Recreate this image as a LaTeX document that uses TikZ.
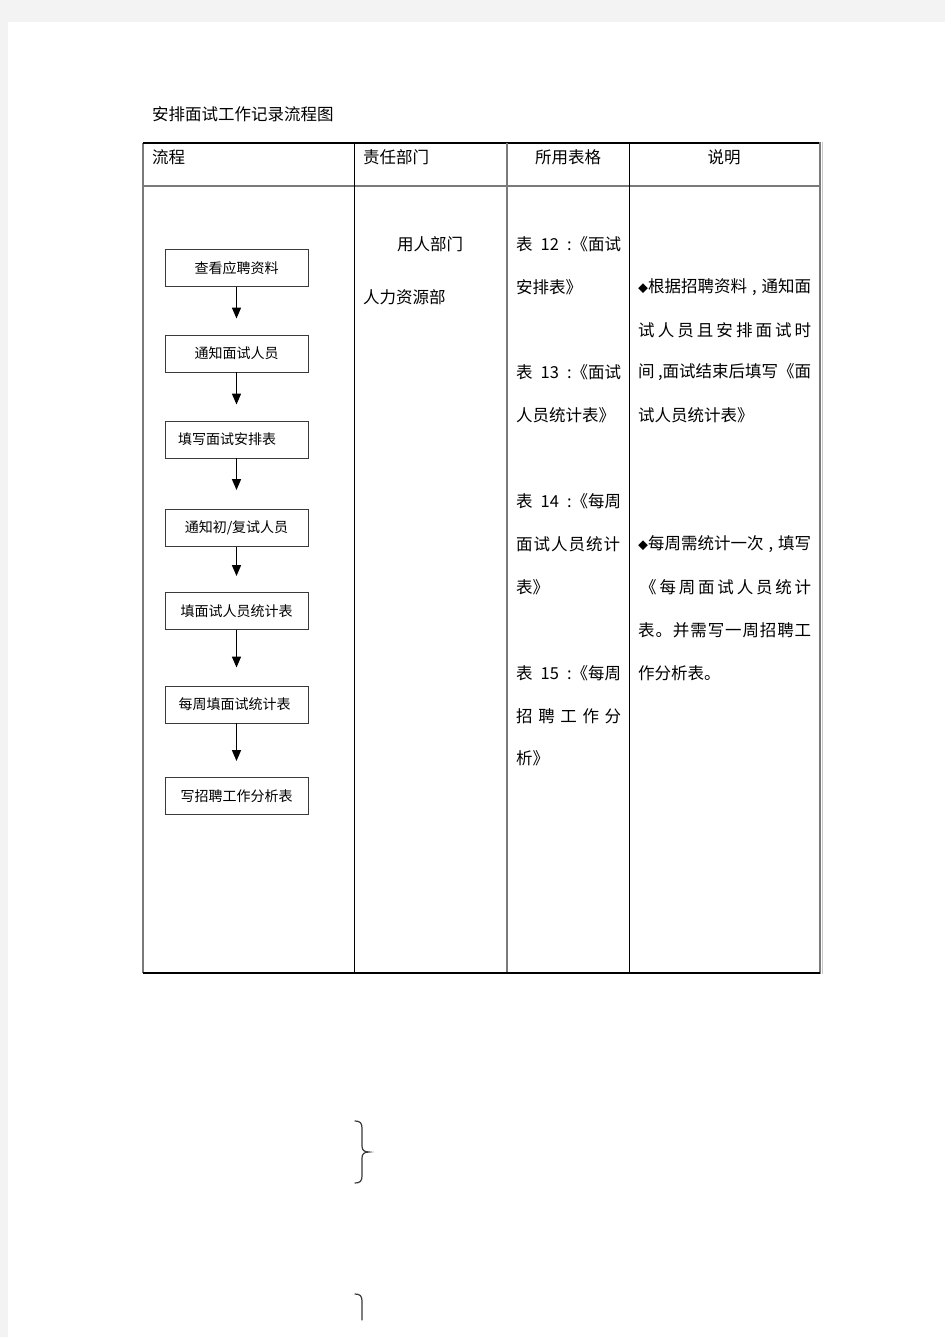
\documentclass[tikz,border=0pt]{standalone}
\usepackage{fontspec}
\setmainfont{Noto Sans CJK SC}
\usetikzlibrary{arrows.meta}
\definecolor{pagegray}{HTML}{F3F3F3}
\definecolor{rulegray}{HTML}{7A7A7A}
\definecolor{lightrule}{HTML}{C8C8C8}
\definecolor{boxline}{HTML}{3A3A3A}
\newcommand\spreadline[2]{\makebox[#1][s]{#2}}
\newcommand\smalldia{{\fontsize{10}{10}\selectfont ◆}}
\begin{document}
\begin{tikzpicture}[x=1pt,y=-1pt,
  txt/.style={anchor=west, inner sep=0pt, font=\fontsize{16.5}{18}\selectfont},
  ctxt/.style={anchor=center, inner sep=0pt, font=\fontsize{16.5}{18}\selectfont},
  flowbox/.style={draw=boxline, line width=0.9pt, minimum width=143pt, minimum height=37pt, inner sep=0pt, font=\fontsize{14}{16}\selectfont},
  arr/.style={-{Triangle[length=11pt,width=9pt]}, line width=1.5pt, shorten >=16pt},
  thinrule/.style={line width=1pt, black},
  greyrule/.style={line width=1.6pt, rulegray},
  bracepath/.style={line width=1.2pt, boxline, line cap=round}]
\useasboundingbox (0,0) rectangle (945,1337);
\fill[pagegray] (0,0) rectangle (945,1337);
\fill[white] (8,22) rectangle (945,1337);

% title
\node[txt] (title) at (152,114) {安排面试工作记录流程图};

% table rules
\draw[greyrule] (143,143) -- (143,973);
\draw[thinrule, line width=1.3pt] (143,143) -- (820,143);
\draw[greyrule, line width=2.2pt] (143,186) -- (820,186);
\draw[thinrule] (354.5,143) -- (354.5,973);
\draw[greyrule, line width=1.3pt] (507,143) -- (507,973);
\draw[thinrule] (629.5,143) -- (629.5,973);
\draw[greyrule, line width=2pt] (819.5,142) -- (819.5,974);
\draw[lightrule, line width=1pt] (822.5,142) -- (822.5,974);
\draw[thinrule, line width=1.3pt] (143,973) -- (820,973);

% header
\node[txt] (h1) at (152,157) {流程};
\node[txt] (h2) at (363,157) {责任部门};
\node[ctxt] (h3) at (568,157) {所用表格};
\node[ctxt] (h4) at (724,157) {说明};

% column 2
\node[txt] (d1) at (397,244) {用人部门};
\node[txt] (d2) at (363,297) {人力资源部};

% column 3
\node[txt] (f1) at (516,244) {\spreadline{105pt}{表 12 :《面试}};
\node[txt] (f2) at (516,287) {安排表》};
\node[txt] (f3) at (516,372) {\spreadline{105pt}{表 13 :《面试}};
\node[txt] (f4) at (516,415) {人员统计表》};
\node[txt] (f5) at (516,501) {\spreadline{105pt}{表 14 :《每周}};
\node[txt] (f6) at (516,544) {\spreadline{104pt}{面\hfil 试\hfil 人\hfil 员\hfil 统\hfil 计}};
\node[txt] (f7) at (516,587) {表》};
\node[txt] (f8) at (516,673) {\spreadline{105pt}{表 15 :《每周}};
\node[txt] (f9) at (516,716) {\spreadline{105pt}{招 聘 工 作 分}};
\node[txt] (f10) at (516,758) {析》};

% column 4
\node[txt] (n1) at (638,287) {\spreadline{173pt}{\smalldia 根据招聘资料 , 通知面}};
\node[txt] (n2) at (638,330) {\spreadline{173pt}{试\hfil 人\hfil 员\hfil 且\hfil 安\hfil 排\hfil 面\hfil 试\hfil 时}};
\node[txt] (n3) at (638,372) {\spreadline{173pt}{间 ,面试结束后填写《面}};
\node[txt] (n4) at (638,415) {试人员统计表》};
\node[txt] (n5) at (638,544) {\spreadline{173pt}{\smalldia 每周需统计一次 , 填写}};
\node[txt] (n6) at (638,587) {\spreadline{173pt}{\hspace{2pt}《\hfil 每\hfil 周\hfil 面\hfil 试\hfil 人\hfil 员\hfil 统\hfil 计}};
\node[txt] (n7) at (638,630) {\spreadline{173pt}{表\hfil 。\hfil 并\hfil 需\hfil 写\hfil 一\hfil 周\hfil 招\hfil 聘\hfil 工}};
\node[txt] (n8) at (638,673) {作分析表。};

% flow boxes
\node[flowbox] (b1) at (236.5,268) {查看应聘资料};
\node[flowbox] (b2) at (236.5,353.5) {通知面试人员};
\node[flowbox] (b3) at (236.5,439.5) {填写面试安排表\kern19pt\relax};
\node[flowbox] (b4) at (236.5,528) {通知初/复试人员};
\node[flowbox] (b5) at (236.5,611) {填面试人员统计表};
\node[flowbox] (b6) at (236.5,704.5) {每周填面试统计表\kern4pt\relax};
\node[flowbox] (b7) at (236.5,796) {写招聘工作分析表};

\draw[arr] (b1.south) -- (b2.north);
\draw[arr] (b2.south) -- (b3.north);
\draw[arr, shorten >=19pt] (b3.south) -- (b4.north);
\draw[arr] (b4.south) -- (b5.north);
\draw[arr, shorten >=18pt] (b5.south) -- (b6.north);
\draw[arr] (b6.south) -- (b7.north);

% braces below the table
\draw[bracepath] (355,1121) .. controls (360,1121) and (362,1123) .. (362,1128)
  -- (362,1146) .. controls (362,1150) and (364,1152) .. (369,1152)
  .. controls (364,1152) and (362,1154) .. (362,1158)
  -- (362,1176) .. controls (362,1181) and (360,1183) .. (355,1183);
\draw[bracepath] (355,1294) .. controls (360,1294) and (362,1296) .. (362,1301) -- (362,1320);
\end{tikzpicture}
\end{document}
